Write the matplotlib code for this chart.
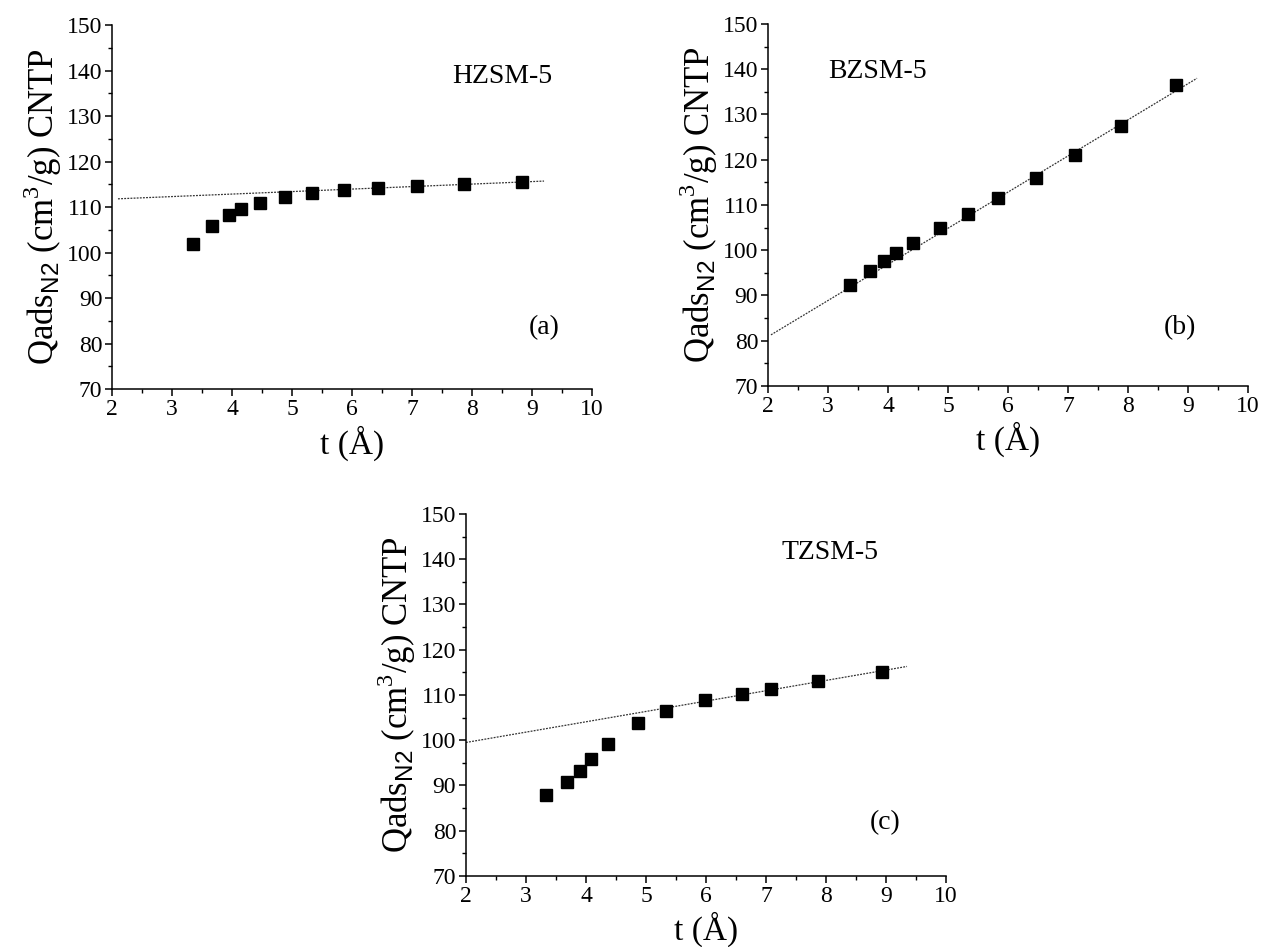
import numpy as np
import matplotlib
matplotlib.use('Agg')
import matplotlib.pyplot as plt
from matplotlib.ticker import MultipleLocator

plt.rcParams['font.family'] = ['Liberation Serif', 'DejaVu Serif']
plt.rcParams['mathtext.fontset'] = 'custom'
plt.rcParams['mathtext.rm'] = 'Liberation Serif'
plt.rcParams['mathtext.sf'] = 'Liberation Sans'

# HZSM-5
t_a = [3.35, 3.66, 3.95, 4.15, 4.46, 4.89, 5.34, 5.86, 6.43, 7.08, 7.86, 8.83]
q_a = [101.9, 105.8, 108.2, 109.5, 110.9, 112.2, 113.0, 113.7, 114.2, 114.6, 115.0, 115.4]
fit_ta = [2.1, 9.2]
fit_qa = [111.8, 115.7]

# BZSM-5
t_b = [3.37, 3.70, 3.94, 4.14, 4.42, 4.86, 5.33, 5.83, 6.47, 7.11, 7.88, 8.80]
q_b = [92.3, 95.5, 97.7, 99.3, 101.6, 104.9, 108.1, 111.6, 116.0, 121.0, 127.4, 136.5]
fit_tb = [2.05, 9.15]
fit_qb = [81.3, 138.0]

# TZSM-5
t_c = [3.33, 3.68, 3.90, 4.09, 4.36, 4.86, 5.34, 5.99, 6.60, 7.09, 7.86, 8.94]
q_c = [87.8, 90.8, 93.3, 95.8, 99.2, 103.8, 106.5, 108.8, 110.3, 111.3, 113.0, 115.1]
fit_tc = [2.0, 9.35]
fit_qc = [99.5, 116.3]

panels = [
    ([0.0888, 0.5892, 0.3807, 0.3844], t_a, q_a, fit_ta, fit_qa, 'HZSM-5', (8.5, 138.6), '(a)', (9.2, 83.6)),
    ([0.6090, 0.5924, 0.3807, 0.3823], t_b, q_b, fit_tb, fit_qb, 'BZSM-5', (3.82, 139.4), '(b)', (8.87, 83.0)),
    ([0.3695, 0.0750, 0.3807, 0.3823], t_c, q_c, fit_tc, fit_qc, 'TZSM-5', (8.07, 141.4), '(c)', (8.98, 81.9)),
]

fig = plt.figure(figsize=(12.61, 9.47), dpi=100)

for rect, t, q, ft, fq, name, npos, tag, tpos in panels:
    ax = fig.add_axes(rect)
    ax.plot(ft, fq, color='#333333', lw=0.9, linestyle=(0, (1.5, 1)))
    ax.plot(t, q, 's', color='black', markersize=8.5)
    ax.set_xlim(2, 10)
    ax.set_ylim(70, 150)
    ax.xaxis.set_major_locator(MultipleLocator(1))
    ax.xaxis.set_minor_locator(MultipleLocator(0.5))
    ax.yaxis.set_major_locator(MultipleLocator(10))
    ax.yaxis.set_minor_locator(MultipleLocator(5))
    ax.spines['top'].set_visible(False)
    ax.spines['right'].set_visible(False)
    for s in ('left', 'bottom'):
        ax.spines[s].set_linewidth(1.1)
    ax.tick_params(which='major', direction='out', length=5, width=1.1, labelsize=17, pad=2)
    ax.tick_params(which='minor', direction='out', length=3, width=1.0)
    ax.set_xlabel('t (Å)', fontsize=24)
    ax.set_ylabel(r'Qads$_{\mathsf{N2}}$ (cm$^{3}$/g) CNTP', fontsize=25)
    ax.xaxis.set_label_coords(0.5, -0.1)
    ax.yaxis.set_label_coords(-0.10, 0.5)
    ax.text(npos[0], npos[1], name, fontsize=20, ha='center', va='center')
    ax.text(tpos[0], tpos[1], tag, fontsize=20, ha='center', va='center')

fig.savefig('out.png', dpi=100)
